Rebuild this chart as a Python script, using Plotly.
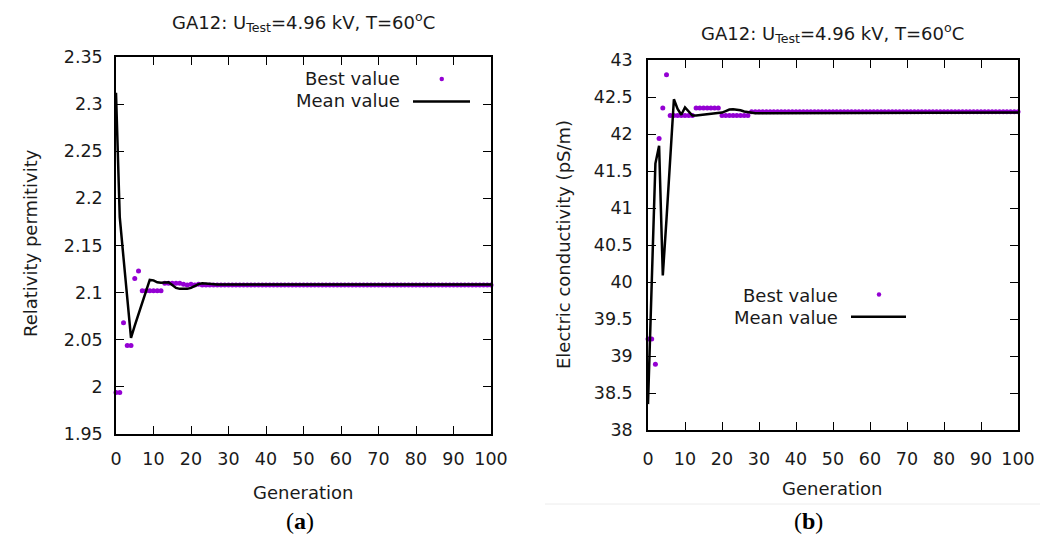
import plotly.graph_objects as go

W, H = 1052, 540

generations = list(range(0, 101))

# Left panel (a): relative permittivity
perm_best_head = [1.994, 1.994, 2.068, 2.044, 2.044, 2.115, 2.123,
                  2.102, 2.102, 2.102, 2.102, 2.102, 2.102,
                  2.110, 2.110, 2.110, 2.110, 2.110,
                  2.109, 2.108, 2.109, 2.108, 2.109]
perm_best_tail = 2.108
perm_mean_head = [2.312, 2.180, 2.137, 2.095, 2.052, 2.065, 2.077, 2.090, 2.102,
                  2.1135, 2.113, 2.111, 2.1105, 2.111, 2.111, 2.108, 2.105, 2.104,
                  2.104, 2.104, 2.105, 2.107, 2.109, 2.110, 2.1095, 2.109]
perm_mean_tail = 2.1085

# Right panel (b): electric conductivity
cond_best_head = [39.23, 39.23, 38.89, 41.94, 42.35, 42.80,
                  42.25, 42.25, 42.25, 42.25, 42.25, 42.25, 42.25,
                  42.35, 42.35, 42.35, 42.35, 42.35, 42.35, 42.35,
                  42.25, 42.25, 42.25, 42.25, 42.25, 42.25, 42.25, 42.25]
cond_best_tail = 42.30
cond_mean_head = [38.35, 40.00, 41.60, 41.84, 40.09, 40.85, 41.60, 42.47, 42.34,
                  42.26, 42.36, 42.30, 42.25, 42.25, 42.255, 42.26, 42.26, 42.265,
                  42.27, 42.275, 42.29, 42.31, 42.33, 42.335, 42.33, 42.32, 42.305,
                  42.295, 42.285, 42.28, 42.28, 42.28, 42.285, 42.29]
cond_mean_tail = 42.29

perm_best = perm_best_head + [perm_best_tail] * (101 - len(perm_best_head))
perm_mean = perm_mean_head + [perm_mean_tail] * (101 - len(perm_mean_head))
cond_best = cond_best_head + [cond_best_tail] * (101 - len(cond_best_head))
cond_mean = cond_mean_head + [cond_mean_tail] * (101 - len(cond_mean_head))

perm_ticks = [1.95, 2.0, 2.05, 2.1, 2.15, 2.2, 2.25, 2.3, 2.35]
cond_ticks = [38, 38.5, 39, 39.5, 40, 40.5, 41, 41.5, 42, 42.5, 43]
gen_ticks = list(range(0, 101, 10))

PURPLE = "#9400d3"
FONT = "DejaVu Sans"
TXT = "#1a1a1a"


def px(x):
    return x / W


def py(y):
    return 1 - y / H


fig = go.Figure()

fig.add_trace(go.Scatter(x=generations, y=perm_best, mode="markers", xaxis="x", yaxis="y",
                         marker=dict(color=PURPLE, size=5), cliponaxis=False, showlegend=False))
fig.add_trace(go.Scatter(x=generations, y=perm_mean, mode="lines", xaxis="x", yaxis="y",
                         line=dict(color="black", width=2.5), showlegend=False))
fig.add_trace(go.Scatter(x=generations, y=cond_best, mode="markers", xaxis="x2", yaxis="y2",
                         marker=dict(color=PURPLE, size=5), cliponaxis=False, showlegend=False))
fig.add_trace(go.Scatter(x=generations, y=cond_mean, mode="lines", xaxis="x2", yaxis="y2",
                         line=dict(color="black", width=2.5), showlegend=False))

axis_common = dict(showgrid=False, zeroline=False, showline=True, linecolor="black",
                   linewidth=1.5, ticks="inside", ticklen=8, tickwidth=1.2,
                   tickcolor="black", mirror="ticks", automargin=False,
                   tickfont=dict(family=FONT, size=17.5, color=TXT))


def fmt(v):
    return ("%g" % v)


fig.update_layout(
    width=W, height=H,
    margin=dict(l=0, r=0, t=0, b=0, pad=0, autoexpand=False),
    showlegend=False,
    paper_bgcolor="white", plot_bgcolor="white",
    xaxis=dict(domain=[px(116), px(491)], range=[0, 100], tickvals=gen_ticks,
               ticktext=[fmt(v) for v in gen_ticks], anchor="y", ticklabelstandoff=8,
               **axis_common),
    yaxis=dict(domain=[py(434), py(57)], range=[1.95, 2.35], tickvals=perm_ticks,
               ticktext=[fmt(v) for v in perm_ticks], anchor="x", ticklabelstandoff=8,
               **axis_common),
    xaxis2=dict(domain=[px(648), px(1018)], range=[0, 100], tickvals=gen_ticks,
                ticktext=[fmt(v) for v in gen_ticks], anchor="y2", ticklabelstandoff=12,
                **axis_common),
    yaxis2=dict(domain=[py(430), py(60)], range=[38, 43], tickvals=cond_ticks,
                ticktext=[fmt(v) for v in cond_ticks], anchor="x2", ticklabelstandoff=10,
                **axis_common),
)

title_text = "GA12: U<sub>Test</sub>=4.96 kV, T=60<sup>o</sup>C"
ann = []


def label(x, y, text, size=18, angle=0, xanchor="center", family=FONT, color=TXT):
    ann.append(dict(x=px(x), y=py(y), xref="paper", yref="paper", text=text,
                    showarrow=False, textangle=angle, xanchor=xanchor, yanchor="middle",
                    font=dict(family=family, size=size, color=color)))


label(304, 22, title_text)
label(832, 33, title_text)
label(303, 492, "Generation")
label(832, 488, "Generation")
label(31, 243, "Relativity permitivity", angle=-90)
label(563, 245, "Electric conductivity (pS/m)", angle=-90)
label(402, 79, "Best value", xanchor="right")
label(402, 101, "Mean value", xanchor="right")
label(840, 295, "Best value", xanchor="right")
label(840, 317, "Mean value", xanchor="right")
label(300, 521, "(<b>a</b>)", size=24, family="Liberation Serif", color="black")
label(808, 521, "(<b>b</b>)", size=24, family="Liberation Serif", color="black")

fig.update_layout(annotations=ann)

shapes = [
    # legend samples
    dict(type="circle", xref="paper", yref="paper", x0=px(439.5), x1=px(444), y0=py(76.8), y1=py(81.2),
         fillcolor=PURPLE, line=dict(width=0)),
    dict(type="line", xref="paper", yref="paper", x0=px(413), x1=px(470), y0=py(101.5), y1=py(101.5),
         line=dict(color="black", width=2.5)),
    dict(type="circle", xref="paper", yref="paper", x0=px(876.8), x1=px(881.2), y0=py(292.3), y1=py(296.7),
         fillcolor=PURPLE, line=dict(width=0)),
    dict(type="line", xref="paper", yref="paper", x0=px(851), x1=px(906), y0=py(316.7), y1=py(316.7),
         line=dict(color="black", width=2.5)),
    # faint separator under panel (b)
    dict(type="line", xref="paper", yref="paper", x0=px(545), x1=px(1040), y0=py(504), y1=py(504),
         line=dict(color="#ececec", width=1)),
]
fig.update_layout(shapes=shapes)

fig.write_html("out.html")
